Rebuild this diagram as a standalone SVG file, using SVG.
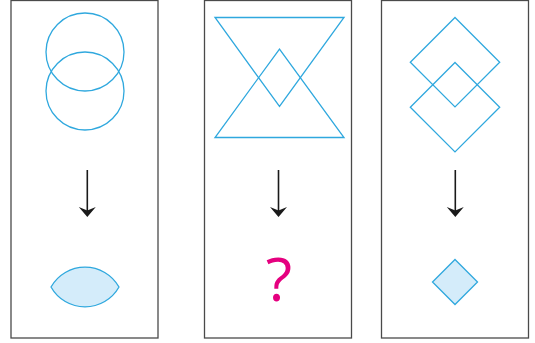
<svg xmlns="http://www.w3.org/2000/svg" width="535" height="343" viewBox="0 0 535 343">
<style>
.frame{fill:#fff;stroke:#4a4a4a;stroke-width:1.3}
.shape{fill:none;stroke:#2fa8de;stroke-width:1.3}
.filled{fill:#d4ecfa;stroke:#2fa8de;stroke-width:1.3}
.arr{stroke:#1a1a1a;stroke-width:1.6;fill:none}
.head{fill:#1a1a1a}
.q{font-family:"Open Sans","Liberation Sans",sans-serif;font-weight:500;font-size:61px;fill:#e5007f}
</style>
<defs>
<path id="ah" class="head" d="M0,0 L-8.5,-10 L0,-6.5 L8.5,-10 Z"/>
</defs>
<rect width="535" height="343" fill="#fff"/>
<g id="panel1">
<rect class="frame" x="11" y="0.5" width="147" height="337.5"/>
<circle class="shape" cx="85" cy="52" r="39"/>
<circle class="shape" cx="85" cy="91" r="39"/>
<path class="filled" d="M51,287 A39,39 0 0 1 119,287 A39,39 0 0 1 51,287 Z"/>
</g>
<g id="panel2">
<rect class="frame" x="204.5" y="0.5" width="147" height="337.5"/>
<path class="shape" d="M215,17.5 L344,17.5 L279.5,106.5 Z"/>
<path class="shape" d="M215,137.5 L344,137.5 L279.5,49 Z"/>
<text class="q" x="279" y="301" text-anchor="middle">?</text>
</g>
<g id="panel3">
<rect class="frame" x="381.5" y="0.5" width="147" height="337.5"/>
<path class="shape" d="M455,17.5 L499.7,62.2 L455,106.9 L410.3,62.2 Z"/>
<path class="shape" d="M455,62.5 L499.7,107.2 L455,151.9 L410.3,107.2 Z"/>
<path class="filled" d="M455,259.5 L477.5,282 L455,304.5 L432.5,282 Z"/>
</g>
<g id="connectors">
<line class="arr" x1="87.3" y1="170" x2="87.3" y2="212"/>
<use href="#ah" x="87.3" y="217"/>
<line class="arr" x1="278.5" y1="170" x2="278.5" y2="212"/>
<use href="#ah" x="278.5" y="217"/>
<line class="arr" x1="455.3" y1="170" x2="455.3" y2="212"/>
<use href="#ah" x="455.3" y="217"/>
</g>
</svg>
